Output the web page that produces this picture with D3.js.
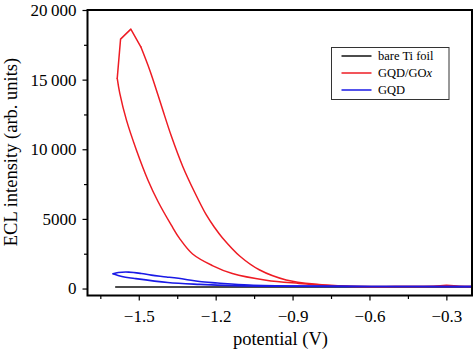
<!DOCTYPE html>
<html>
<head>
<meta charset="utf-8">
<script src="https://cdn.jsdelivr.net/npm/d3@7"></script>
<style>
  body { margin: 0; background: #fff; }
  text { font-family: "Liberation Serif", "Times New Roman", serif; fill: #000; }
</style>
</head>
<body>
<div id="chart"></div>
<script>
// bare Ti foil
var tiV = [-1.59, -1.3, -1.0, -0.7, -0.4, -0.2];
var tiI = [110, 110, 110, 110, 110, 110];

// GQD/GOx loop (cathodic scan up the inner branch, back down the outer one)
var goxV = [-0.2, -0.25, -0.3, -0.35, -0.5, -0.642, -0.770, -0.875, -1.003, -1.135, -1.213, -1.290, -1.341,
  -1.373, -1.425, -1.464, -1.509, -1.548, -1.574, -1.584,
  -1.571, -1.531, -1.492,
  -1.457, -1.425, -1.406, -1.373, -1.328, -1.283, -1.237, -1.205, -1.174, -1.104, -1.030, -0.925, -0.797, -0.692, -0.5, -0.2];
var goxI = [150, 170, 230, 160, 140, 140, 230, 370, 600, 1080, 1650, 2480, 3600,
  4550, 6250, 7780, 9935, 12091, 14009, 15086,
  17910, 18628, 17356,
  15675, 13900, 12800, 10950, 8750, 6950, 5300, 4400, 3650, 2300, 1350, 620, 290, 170, 150, 150];

// GQD loop
var gqdV = [-0.2, -0.6, -0.952, -1.127, -1.263, -1.387, -1.516, -1.566, -1.600,
  -1.580, -1.539, -1.490, -1.451, -1.392, -1.321, -1.263, -1.193, -1.069, -0.875, -0.6, -0.2];
var gqdI = [140, 150, 170, 210, 300, 430, 720, 860, 1063,
  1150, 1178, 1080, 960, 833, 668, 500, 400, 250, 170, 150, 150];

var xTicks = [-1.5, -1.2, -0.9, -0.6, -0.3];
var xMinor = [-1.65, -1.35, -1.05, -0.75, -0.45];
var yTicks = [0, 5000, 10000, 15000, 20000];
var yMinor = [2500, 7500, 12500, 17500];

var legendNames = ["bare Ti foil", "GQD/GOx", "GQD"];
var legendColors = ["#111111", "#ee1c24", "#1a1ae6"];

var W = 474, H = 350;
var margin = {top: 10, right: 2, bottom: 54.5, left: 87.5};
var width = W - margin.left - margin.right,
    height = H - margin.top - margin.bottom;

var svg = d3.select("#chart").append("svg")
    .attr("width", W)
    .attr("height", H);

var g = svg.append("g").attr("transform", "translate(" + margin.left + "," + margin.top + ")");

var x = d3.scaleLinear().domain([-1.7, -0.2]).range([0, width]);
var y = d3.scaleLinear().domain([-500, 20000]).range([height, 0]);

function pts(vs, is) {
  return vs.map(function(v, i) { return [v, is[i]]; });
}

var smooth = d3.line()
    .curve(d3.curveCatmullRom.alpha(0.5))
    .x(function(d) { return x(d[0]); })
    .y(function(d) { return y(d[1]); });
var straight = d3.line()
    .x(function(d) { return x(d[0]); })
    .y(function(d) { return y(d[1]); });

svg.append("clipPath").attr("id", "clip")
  .append("rect").attr("width", width).attr("height", height);

var plot = g.append("g").attr("clip-path", "url(#clip)");

function draw(data, gen, color, sw) {
  plot.append("path").datum(data)
    .attr("d", gen).attr("fill", "none")
    .attr("stroke", color).attr("stroke-width", sw)
    .attr("stroke-linejoin", "round").attr("stroke-linecap", "round");
}

draw(pts(tiV, tiI), straight, legendColors[0], 1.5);

// red: smooth branches, sharp polyline around the peak
var gox = pts(goxV, goxI);
draw(gox.slice(0, 20), smooth, legendColors[1], 1.5);
draw(gox.slice(19, 23), straight, legendColors[1], 1.5);
draw(gox.slice(22), smooth, legendColors[1], 1.5);

// blue: two branches meeting at the left tip
var gqd = pts(gqdV, gqdI);
draw(gqd.slice(0, 9), smooth, legendColors[2], 1.6);
draw(gqd.slice(8), smooth, legendColors[2], 1.6);

// axes
function fmt(d) {
  return d >= 10000 ? d3.format(",")(d).replace(",", "\u2009") : String(d);
}

var xAxis = g.append("g").attr("transform", "translate(0," + height + ")")
    .call(d3.axisBottom(x).tickValues(xTicks).tickSize(5).tickPadding(9)
      .tickFormat(function(d) { return d3.format(".1f")(d).replace("-", "\u2212"); }));
var xAxisMinor = g.append("g").attr("transform", "translate(0," + height + ")")
    .call(d3.axisBottom(x).tickValues(xMinor).tickSize(3.5).tickFormat(""));
var yAxis = g.append("g")
    .call(d3.axisLeft(y).tickValues(yTicks).tickSize(5).tickPadding(6).tickFormat(fmt));
var yAxisMinor = g.append("g")
    .call(d3.axisLeft(y).tickValues(yMinor).tickSize(3.5).tickFormat(""));

[xAxis, xAxisMinor, yAxis, yAxisMinor].forEach(function(a) {
  a.select(".domain").remove();
  a.selectAll("line").attr("stroke", "#000").attr("stroke-width", 1.2);
  a.selectAll("text").style("font-family", "'Liberation Serif', serif").style("font-size", "17px").attr("fill", "#000");
});

// frame
g.append("rect")
    .attr("width", width).attr("height", height)
    .attr("fill", "none").attr("stroke", "#000").attr("stroke-width", 2);

// titles
svg.append("text")
    .attr("x", 280.5).attr("y", 345)
    .attr("text-anchor", "middle").style("font-size", "18.5px")
    .text("potential (V)");
svg.append("text")
    .attr("transform", "translate(17," + 152 + ") rotate(-90)")
    .attr("text-anchor", "middle").style("font-size", "18.5px")
    .text("ECL intensity (arb. units)");

// legend
var lg = svg.append("g").attr("transform", "translate(331.5,47.5)");
lg.append("rect").attr("width", 117.5).attr("height", 52)
    .attr("fill", "#fff").attr("stroke", "#333").attr("stroke-width", 1);
legendNames.forEach(function(name, i) {
  var yy = 8.5 + i * 17;
  lg.append("line").attr("x1", 10).attr("x2", 40).attr("y1", yy).attr("y2", yy)
    .attr("stroke", legendColors[i]).attr("stroke-width", 1.5);
  var t = lg.append("text").attr("x", 46.5).attr("y", yy + 4.3).style("font-size", "12.5px");
  if (name === "GQD/GOx") {
    t.append("tspan").text("GQD/GO");
    t.append("tspan").style("font-style", "italic").text("x");
  } else {
    t.text(name);
  }
});
</script>
</body>
</html>
